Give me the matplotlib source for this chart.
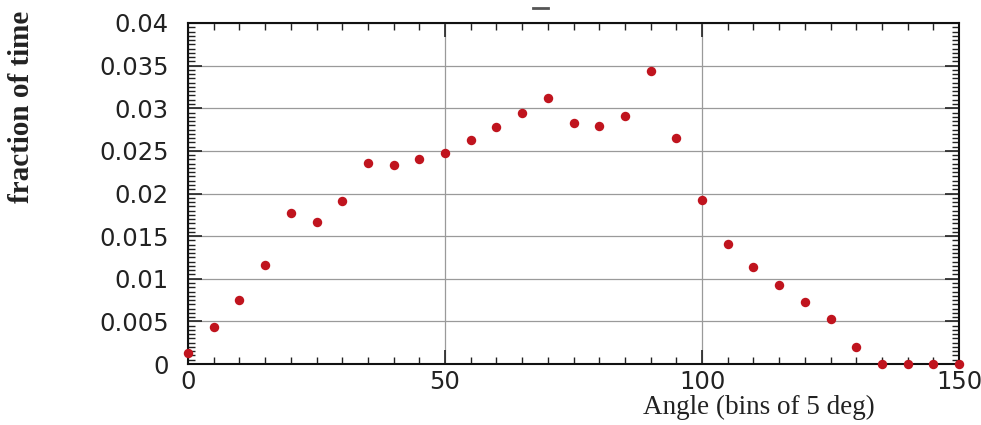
import matplotlib
matplotlib.use("Agg")
import matplotlib.pyplot as plt
from matplotlib.ticker import MultipleLocator
from matplotlib.lines import Line2D

angle = [0, 5, 10, 15, 20, 25, 30, 35, 40, 45, 50, 55, 60, 65, 70, 75,
         80, 85, 90, 95, 100, 105, 110, 115, 120, 125, 130, 135, 140, 145, 150]
fraction = [0.00133, 0.00438, 0.0075, 0.0116, 0.0177, 0.0166, 0.0191, 0.0236,
            0.0233, 0.0241, 0.02475, 0.0263, 0.0278, 0.0295, 0.03124, 0.0283,
            0.02795, 0.0291, 0.0344, 0.02647, 0.01924, 0.01404, 0.01134, 0.00923,
            0.00731, 0.00524, 0.00203, 0.0, 0.0, 0.0, 0.0]

x_ticks = [0, 50, 100, 150]
y_ticks = [0, 0.005, 0.01, 0.015, 0.02, 0.025, 0.03, 0.035, 0.04]
y_labels = ["0", "0.005", "0.01", "0.015", "0.02", "0.025", "0.03", "0.035", "0.04"]

fig = plt.figure(figsize=(9.81, 4.25), dpi=100)
ax = fig.add_axes([188/981, 1 - 364/425, (959-188)/981, (364-23)/425])

ax.plot(angle, fraction, linestyle='none', marker='o', markersize=6.8,
        color='#c0141e', markeredgewidth=0, clip_on=False, zorder=5)

ax.set_xlim(0, 150)
ax.set_ylim(0, 0.04)
ax.set_xticks(x_ticks)
ax.set_xticklabels([str(v) for v in x_ticks])
ax.set_yticks(y_ticks)
ax.set_yticklabels(y_labels)
ax.xaxis.set_minor_locator(MultipleLocator(5))
ax.yaxis.set_minor_locator(MultipleLocator(0.0005))

ax.grid(True, which='major', color='#9a9a9a', linewidth=0.9)
ax.set_axisbelow(True)

for s in ax.spines.values():
    s.set_linewidth(1.5)
    s.set_color('#111111')

ax.tick_params(which='both', direction='in', top=True, right=True, color='#222222')
ax.tick_params(which='major', length=10, width=1.2)
ax.tick_params(which='minor', length=5, width=1.0)
ax.tick_params(axis='y', which='major', labelsize=17.5, pad=14, labelcolor='#222222')
ax.tick_params(axis='x', which='major', labelsize=17.5, pad=4, labelcolor='#222222')

fig.text(759/981, 1 - 414/425, "Angle (bins of 5 deg)", ha='center', va='baseline',
         fontsize=19.5, family='Liberation Serif', color='#222222')
fig.text(22/981, 1 - 107/425, "fraction of time", ha='center', va='center',
         rotation=90, fontsize=21, fontweight='bold', family='Liberation Serif',
         color='#222222')

fig.add_artist(Line2D([533/981, 548/981], [1 - 8/425, 1 - 8/425],
                      color='#555555', linewidth=2.0))

fig.savefig("out.png", dpi=100)
